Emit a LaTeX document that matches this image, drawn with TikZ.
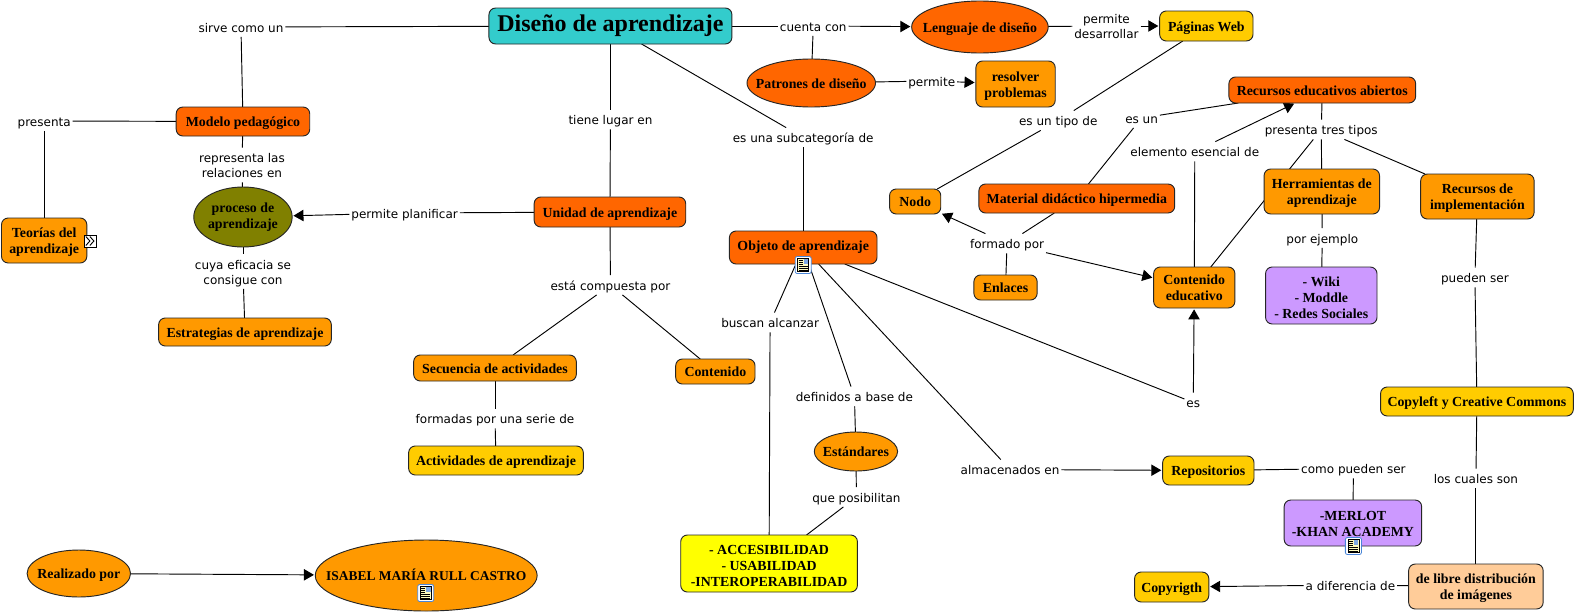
\documentclass[tikz,border=0pt]{standalone}
\usepackage{fontspec}
\setmainfont{Liberation Serif}
\newfontfamily\labfont{DejaVu Sans}
\usetikzlibrary{shapes.geometric,arrows.meta,backgrounds}
\definecolor{cteal}{HTML}{33CCCC}
\definecolor{cred}{HTML}{FF6600}
\definecolor{corange}{HTML}{FF9900}
\definecolor{cgold}{HTML}{FFCC00}
\definecolor{cyell}{HTML}{FFFF00}
\definecolor{cviolet}{HTML}{CC99FF}
\definecolor{cpeach}{HTML}{FFCC99}
\definecolor{colive}{HTML}{808000}
\definecolor{iconblue}{HTML}{4A86D8}
\newcommand{\mbx}[1]{\makebox[0pt][c]{#1}}
\newcommand{\ft}{\rule{0pt}{10pt}}
\newcommand{\fth}{\rule{0pt}{12.5pt}}
\tikzset{
  x=0.753pt, y=-0.75pt,
  wh/.style 2 args={minimum width=#1*0.753pt, minimum height=#2*0.75pt},
  balanced/.style={execute at begin node={\rule{0pt}{10pt}}, execute at end node=\vphantom{lg}},
  concept/.style={draw=black!85, line width=0.7pt, inner sep=0pt, outer sep=0pt, align=center, balanced,
    font=\fontsize{10.4}{12}\selectfont\bfseries},
  rbox/.style={concept, rectangle, rounded corners=5pt},
  oval/.style={concept, ellipse},
  lab/.style={inner sep=1.5pt, outer sep=0pt, align=center, text=black, balanced,
    font=\labfont\fontsize{9}{11.2}\selectfont},
  conn/.style={draw=black, line width=0.7pt},
  arr/.style={conn, -{Triangle[length=7.5pt,width=8.5pt]}, shorten >=1pt},
  docicon/.pic={
    \draw[iconblue, line width=0.6pt, fill=white, rounded corners=1.5pt] (-8,-8.5) rectangle (8,8.5);
    \draw[black, line width=0.4pt, fill=yellow!25] (-5.5,-6.5) rectangle (5.5,6.5);
    \fill[iconblue!70] (0.5,-6) rectangle (5,-1);
    \foreach \yy in {-4.5,-2.5,-0.5}{\draw[black, line width=0.4pt] (-4.5,\yy) -- (-0.5,\yy);}
    \foreach \yy in {1.5,3.5,5}{\draw[black, line width=0.4pt] (-4.5,\yy) -- (4.5,\yy);}
  },
  moreicon/.pic={
    \draw[black, line width=0.6pt, fill=white] (-6,-6) rectangle (6,6);
    \draw[black, line width=0.7pt] (-4.5,-4.5) -- (-0.5,0) -- (-4.5,4.5);
    \draw[black, line width=0.7pt] (-0.5,-4.5) -- (3.5,0) -- (-0.5,4.5);
  }
}
\begin{document}
\begin{tikzpicture}
\useasboundingbox (0,0) rectangle (1567.7,614);
% concepts
\node[rbox, fill=cteal, wh={242}{36}, font=\fontsize{18}{20}\selectfont\bfseries] (main) at (608,26) {Diseño de aprendizaje};
\node[oval, fill=cred, wh={136}{52}] (lenguaje) at (976,27) {\mbx{Lenguaje de diseño}};
\node[rbox, fill=cgold, wh={93}{30}] (paginas) at (1201.5,26) {Páginas Web};
\node[oval, fill=cred, wh={128}{48}] (patrones) at (808,83) {\mbx{Patrones de diseño}};
\node[rbox, fill=corange, wh={79}{46}] (resolver) at (1011.5,84) {\ft resolver\\problemas};
\node[rbox, fill=cred, wh={186}{26}] (recursos) at (1317,90) {Recursos educativos abiertos};
\node[rbox, fill=cred, wh={133}{29}] (modelo) at (242,121.5) {Modelo pedagógico};
\node[oval, fill=colive, wh={98}{60}] (proceso) at (242,217) {\mbx{\begin{minipage}{90pt}\centering\baselineskip=12pt proceso de\\aprendizaje\end{minipage}}};
\node[rbox, fill=corange, wh={85}{45}] (teorias) at (44,240.5) {\ft Teorías del\\aprendizaje};
\node[rbox, fill=corange, wh={172}{28}] (estrategias) at (244,332) {Estrategias de aprendizaje};
\node[rbox, fill=cred, wh={151}{30}] (unidad) at (607.5,212) {Unidad de aprendizaje};
\node[rbox, fill=cred, wh={147}{33}] (objeto) at (800,247.5) {\raisebox{1.5pt}{Objeto de aprendizaje}};
\node[rbox, fill=corange, wh={51}{25}] (nodo) at (911.5,201.5) {Nodo};
\node[rbox, fill=cred, wh={195}{29}] (material) at (1072.5,198.5) {Material didáctico hipermedia};
\node[rbox, fill=corange, wh={63}{25}] (enlaces) at (1001.5,287.5) {Enlaces};
\node[rbox, fill=corange, wh={81}{41}] (contenidoed) at (1189.5,287.5) {\ft Contenido\\educativo};
\node[rbox, fill=corange, wh={115}{45}] (herramientas) at (1316.5,191.5) {\ft Herramientas de\\aprendizaje};
\node[rbox, fill=corange, wh={113}{45}] (implementacion) at (1471.5,196.5) {\ft Recursos de\\implementación};
\node[rbox, fill=cviolet, wh={111}{57}] (wiki) at (1316,295.5) {\fth - Wiki\\- Moddle\\- Redes Sociales};
\node[rbox, fill=corange, wh={162}{26}] (secuencia) at (493,368) {Secuencia de actividades};
\node[rbox, fill=corange, wh={79}{25}] (contenido) at (712.5,371.5) {Contenido};
\node[rbox, fill=cgold, wh={174}{29}] (actividades) at (494,460.5) {Actividades de aprendizaje};
\node[oval, fill=corange, wh={83}{39}] (estandares) at (852.5,451.5) {\mbx{Estándares}};
\node[rbox, fill=cyell, wh={176}{57}] (acces) at (766,563.5) {\fth - ACCESIBILIDAD\\- USABILIDAD\\-INTEROPERABILIDAD};
\node[rbox, fill=cgold, wh={192}{29}] (copyleft) at (1471,401.5) {Copyleft y Creative Commons};
\node[rbox, fill=cgold, wh={91}{29}] (repositorios) at (1203.5,470.5) {Repositorios};
\node[rbox, fill=cviolet, wh={137}{46}] (merlot) at (1347.5,523) {\ft -MERLOT\\-KHAN ACADEMY};
\node[rbox, fill=cpeach, wh={134}{45}] (libre) at (1470,586.5) {\ft de libre distribución\\de imágenes};
\node[rbox, fill=cgold, wh={74}{30}] (copyrigth) at (1167,587) {Copyrigth};
\node[oval, fill=corange, wh={103}{47}] (realizado) at (78.5,573.5) {\mbx{Realizado por}};
\node[oval, fill=corange, wh={221}{71}] (isabel) at (424.5,575.5) {\mbx{\fontsize{10.1}{12}\selectfont ISABEL MARÍA RULL CASTRO}};
% linking phrases
\node[lab] (lsirve) at (240,27) {sirve como un};
\node[lab] (lcuenta) at (810,26) {cuenta con};
\node[lab] (ldesarrollar) at (1102,26) {\ft permite\\desarrollar};
\node[lab] (lpermite) at (928,81) {permite};
\node[lab] (lugar) at (608,119.5) {tiene lugar en};
\node[lab] (lsubcat) at (800,137.5) {es una subcategoría de};
\node[lab] (lesun) at (1137,118) {es un};
\node[lab] (ltipo) at (1054,120.5) {es un tipo de};
\node[lab] (ltres) at (1316,129.5) {presenta tres tipos};
\node[lab] (lesencial) at (1190,151.5) {elemento esencial de};
\node[lab] (lpresenta) at (44,121) {presenta};
\node[lab] (lrepresenta) at (241,165) {\ft representa las\\relaciones en};
\node[lab] (lcuya) at (242,271.5) {\ft cuya eficacia se\\consigue con};
\node[lab] (lplanificar) at (403,213) {permite planificar};
\node[lab] (lcompuesta) at (608,285) {está compuesta por};
\node[lab] (lformado) at (1003,243.5) {formado por};
\node[lab] (lejemplo) at (1317,238) {por ejemplo};
\node[lab] (lpueden) at (1469,277.5) {pueden ser};
\node[lab] (lbuscan) at (767,322.5) {buscan alcanzar};
\node[lab] (lformadas) at (493,418.5) {formadas por una serie de};
\node[lab] (ldefinidos) at (851,396.5) {definidos a base de};
\node[lab] (les) at (1188.5,402.5) {es};
\node[lab] (lposibilitan) at (853,497) {que posibilitan};
\node[lab] (lalmacenados) at (1006,469.5) {almacenados en};
\node[lab] (lcomo) at (1348,468.5) {como pueden ser};
\node[lab] (lcuales) at (1470,478.5) {los cuales son};
\node[lab] (ldiferencia) at (1345,585) {a diferencia de};
% icons
\pic at (800,265) {docicon};
\pic at (1348,546) {docicon};
\pic at (424,593) {docicon};
\pic at (90,241) {moreicon};
% connectors
\begin{scope}[on background layer]
\draw[conn] (main) -- (lsirve);
\draw[conn] (lsirve) -- (modelo);
\draw[conn] (modelo) -- (lpresenta);
\draw[conn] (lpresenta) -- (teorias);
\draw[conn] (modelo) -- (lrepresenta);
\draw[conn] (lrepresenta) -- (proceso);
\draw[conn] (proceso) -- (lcuya);
\draw[conn] (lcuya) -- (estrategias);
\draw[conn] (unidad) -- (lplanificar);
\draw[arr] (lplanificar) -- (proceso);
\draw[conn] (main) -- (lugar);
\draw[conn] (lugar) -- (unidad);
\draw[conn] (main) -- (lsubcat);
\draw[conn] (lsubcat) -- (objeto);
\draw[conn] (main) -- (lcuenta);
\draw[arr] (lcuenta) -- (lenguaje);
\draw[conn] (lcuenta) -- (patrones);
\draw[conn] (lenguaje) -- (ldesarrollar);
\draw[arr] (ldesarrollar) -- (paginas);
\draw[conn] (patrones) -- (lpermite);
\draw[arr] (lpermite) -- (resolver);
\draw[conn] (paginas) -- (ltipo);
\draw[conn] (ltipo) -- (nodo);
\draw[conn] (material) -- (lesun);
\draw[conn] (lesun) -- (recursos);
\draw[conn] (contenidoed) -- (lesencial);
\draw[arr] (lesencial) -- (recursos);
\draw[conn] (recursos) -- (ltres);
\draw[conn] (ltres) -- (herramientas);
\draw[conn] (ltres) -- (contenidoed);
\draw[conn] (ltres) -- (implementacion);
\draw[conn] (herramientas) -- (lejemplo);
\draw[conn] (lejemplo) -- (wiki);
\draw[conn] (implementacion) -- (lpueden);
\draw[conn] (lpueden) -- (copyleft);
\draw[conn] (copyleft) -- (lcuales);
\draw[conn] (lcuales) -- (libre);
\draw[conn] (libre) -- (ldiferencia);
\draw[arr] (ldiferencia) -- (copyrigth);
\draw[conn] (repositorios) -- (lcomo);
\draw[conn] (lcomo) -- (merlot);
\draw[conn] (objeto) -- (lalmacenados);
\draw[arr] (lalmacenados) -- (repositorios);
\draw[conn] (objeto) -- (les);
\draw[arr] (les) -- (contenidoed);
\draw[conn] (objeto) -- (lbuscan);
\draw[conn] (lbuscan) -- (acces);
\draw[conn] (objeto) -- (ldefinidos);
\draw[conn] (ldefinidos) -- (estandares);
\draw[conn] (estandares) -- (lposibilitan);
\draw[conn] (lposibilitan) -- (acces);
\draw[conn] (enlaces) -- (lformado);
\draw[conn] (material) -- (lformado);
\draw[arr] (lformado) -- (nodo);
\draw[arr] (lformado) -- (contenidoed);
\draw[conn] (unidad) -- (lcompuesta);
\draw[conn] (lcompuesta) -- (secuencia);
\draw[conn] (lcompuesta) -- (contenido);
\draw[conn] (secuencia) -- (lformadas);
\draw[conn] (lformadas) -- (actividades);
\draw[arr] (realizado) -- (isabel);
\end{scope}
\end{tikzpicture}
\end{document}
